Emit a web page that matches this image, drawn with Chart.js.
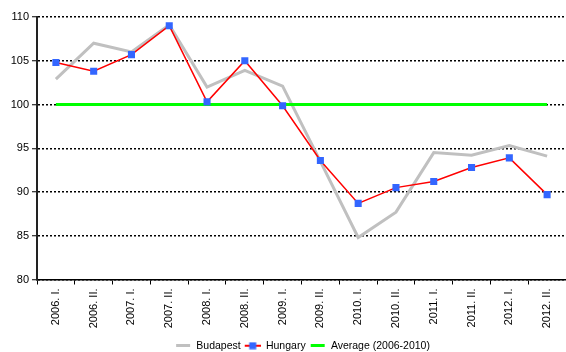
<!DOCTYPE html>
<html>
<head>
<meta charset="utf-8">
<script src="https://cdn.jsdelivr.net/npm/chart.js@4/dist/chart.umd.min.js"></script>
<style>
  html, body { margin: 0; padding: 0; background: #fff; }
  #wrap { width: 566px; height: 352px; }
</style>
</head>
<body>
<div id="wrap"><canvas id="c" width="566" height="352"></canvas></div>
<script>
// Half-year periods
const periods = ['2006. I.', '2006. II.', '2007. I.', '2007. II.', '2008. I.', '2008. II.',
  '2009. I.', '2009. II.', '2010. I.', '2010. II.', '2011. I.', '2011. II.', '2012. I.', '2012. II.'];

// Index values (average of 2006-2010 = 100)
const budapest = [102.9, 107.0, 106.0, 109.1, 102.0, 103.9, 102.1, 93.5, 84.8, 87.7, 94.5, 94.2, 95.3, 94.1];
const hungary  = [104.8, 103.8, 105.7, 109.0, 100.3, 105.0, 99.85, 93.6, 88.7, 90.5, 91.2, 92.8, 93.9, 89.7];
const average  = [100, 100, 100, 100, 100, 100, 100, 100, 100, 100, 100, 100, 100, 100];

// Y axis range and step
const yMin = 80, yMax = 110, yStep = 5;

const FONT = 'Liberation Sans, Arial, sans-serif';

// small legend swatches (transparent margin on the left)
function swatch(w, h, draw) {
  const cv = document.createElement('canvas');
  cv.width = w; cv.height = h;
  draw(cv.getContext('2d'), w, h);
  return cv;
}
const SW = 18;
const swBudapest = swatch(SW, 3, (g, w, h) => { g.fillStyle = '#c0c0c0'; g.fillRect(3, 0, 14, h); });
const swHungary = swatch(SW, 8, (g, w, h) => {
  g.fillStyle = '#ff0000'; g.fillRect(2, 3, 16, 2);
  g.fillStyle = '#3366ff'; g.fillRect(6.5, 0.5, 7, 7);
});
const swAverage = swatch(SW, 3, (g, w, h) => { g.fillStyle = '#00ff00'; g.fillRect(3, 0, 14, h); });

// let the plot area run to the right edge of the canvas
const fullWidthArea = {
  id: 'fullWidthArea',
  afterLayout(chart) {
    const a = chart.chartArea;
    a.right = chart.width;
    a.width = a.right - a.left;
    const x = chart.scales.x;
    x.right = chart.width;
    x.width = x.right - x.left;
    x.configure();
    const lg = chart.legend;
    if (lg) { lg.right = chart.width; lg.width = lg.right - lg.left; }
  }
};

new Chart(document.getElementById('c'), {
  type: 'line',
  data: {
    labels: periods,
    datasets: [
      {
        label: 'Budapest', data: budapest, order: 2,
        borderColor: '#c0c0c0', borderWidth: 3, pointRadius: 0, tension: 0
      },
      {
        label: 'Hungary', data: hungary, order: 0,
        borderColor: '#ff0000', borderWidth: 1.5, tension: 0,
        pointStyle: 'rect', pointRadius: 5, pointBorderWidth: 0,
        pointBackgroundColor: '#3366ff', pointBorderColor: '#3366ff'
      },
      {
        label: 'Average (2006-2010)', data: average, order: 1,
        borderColor: '#00ff00', borderWidth: 3, pointRadius: 0, tension: 0
      }
    ]
  },
  plugins: [fullWidthArea],
  options: {
    responsive: false,
    animation: false,
    events: [],
    layout: { padding: { top: 17, right: 0, left: 0, bottom: -9 } },
    plugins: {
      tooltip: { enabled: false },
      legend: {
        position: 'bottom',
        fullSize: false,
        labels: {
          usePointStyle: true,
          pointStyleWidth: SW,
          boxHeight: 11,
          padding: 2,
          color: '#000',
          font: { family: FONT, size: 10.5 },
          generateLabels: (chart) => {
            const imgs = [swBudapest, swHungary, swAverage];
            return chart.data.datasets.map((ds, i) => ({
              text: ds.label, datasetIndex: i, pointStyle: imgs[i],
              fillStyle: 'transparent', strokeStyle: 'transparent', lineWidth: 0,
              fontColor: '#000', hidden: false
            }));
          }
        }
      }
    },
    scales: {
      x: {
        offset: true,
        grid: {
          offset: true, drawOnChartArea: false, drawTicks: true,
          tickLength: 5, tickColor: '#000', tickWidth: 1
        },
        border: { display: true, color: '#000', width: 1.5 },
        ticks: {
          minRotation: 90, maxRotation: 90, autoSkip: false, padding: 4,
          color: '#000', font: { family: FONT, size: 11 }
        },
        afterFit: (s) => { s.height = 59; s.paddingLeft = 0; s.paddingRight = 0; }
      },
      y: {
        min: yMin, max: yMax,
        grid: {
          color: '#000', lineWidth: 1.5, drawTicks: true,
          tickLength: 5, tickColor: '#000', tickWidth: 1, tickBorderDash: []
        },
        border: { display: true, color: '#222', width: 2, dash: [2, 2] },
        ticks: {
          stepSize: yStep, padding: 3, color: '#000',
          font: { family: FONT, size: 11 }
        },
        afterFit: (s) => { s.width = 37; s.paddingTop = 0; s.paddingBottom = 0; }
      }
    }
  }
});
</script>
</body>
</html>
